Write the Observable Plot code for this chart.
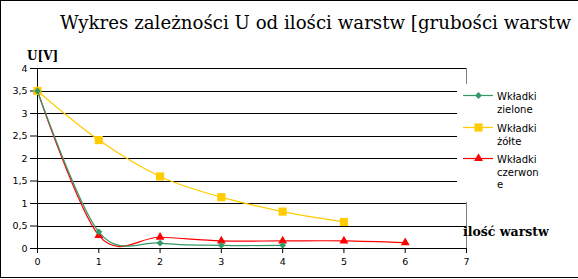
<!DOCTYPE html>
<html><head><meta charset="utf-8">
<script src="https://cdn.jsdelivr.net/npm/d3@7"></script>
<script src="https://cdn.jsdelivr.net/npm/@observablehq/plot@0.6"></script>
<style>html,body{margin:0;padding:0;background:#fff} svg{display:block}</style>
</head><body><div id="chart"></div>
<script>
// Data
const layers = [0, 1, 2, 3, 4, 5, 6];
const greenValues = [3.5, 0.37, 0.12, 0.07, 0.07];
const yellowValues = [3.5, 2.41, 1.6, 1.14, 0.82, 0.59];
const redValues = [3.5, 0.29, 0.25, 0.17, 0.17, 0.17, 0.13];
const seriesNames = ["Wkładki zielone", "Wkładki żółte", "Wkładki czerwone"];
const legendLines = [["Wkładki", "zielone"], ["Wkładki", "żółte"], ["Wkładki", "czerwon", "e"]];
const seriesColors = ["#339966", "#ffcc00", "#ff0000"];
const yTicks = [0, 0.5, 1, 1.5, 2, 2.5, 3, 3.5, 4];
const xTicks = [0, 1, 2, 3, 4, 5, 6, 7];
const titleText = "Wykres zależności U od ilości warstw [grubości warstw";
const yLabel = "U[V]";
const xLabel = "ilość warstw";

const toRows = (vals) => vals.map((v, i) => ({x: layers[i], y: v}));
const green = toRows(greenValues);
const yellow = toRows(yellowValues);
const red = toRows(redValues);

const chart = Plot.plot({
  width: 578, height: 279,
  marginLeft: 37, marginRight: 112, marginTop: 68, marginBottom: 31,
  x: {domain: [0, 7], ticks: xTicks, tickSize: 5, tickPadding: 5, label: null, tickFormat: d => String(d)},
  y: {domain: [0, 4], ticks: yTicks, tickSize: 7, tickPadding: 3, label: null,
      tickFormat: d => String(d).replace(".", ",")},
  style: {fontFamily: "DejaVu Sans", fontSize: "9.5px", color: "#000", background: "#fff", overflow: "hidden"},
  marks: [
    Plot.ruleY(yTicks, {stroke: "#000", strokeWidth: 1, shapeRendering: "crispEdges"}),
    Plot.ruleX([7], {stroke: "#808080", shapeRendering: "crispEdges"}),
    Plot.ruleX([0], {stroke: "#000", shapeRendering: "crispEdges"}),
    Plot.line(red, {x: "x", y: "y", curve: "cardinal", stroke: seriesColors[2], strokeWidth: 1.2}),
    Plot.dot(red, {x: "x", y: "y", symbol: "triangle", r: 3.3, fill: seriesColors[2], stroke: "none"}),
    Plot.line(yellow, {x: "x", y: "y", curve: "cardinal", stroke: seriesColors[1], strokeWidth: 1.2}),
    Plot.dot(yellow, {x: "x", y: "y", symbol: "square", r: 4.6, fill: seriesColors[1], stroke: "none"}),
    Plot.line(green, {x: "x", y: "y", curve: "cardinal", stroke: seriesColors[0], strokeWidth: 1.2}),
    Plot.dot(green, {x: "x", y: "y", symbol: "diamond2", r: 3.1, fill: seriesColors[0], stroke: "none"})
  ]
});
document.getElementById("chart").appendChild(chart);

const svg = d3.select(chart);
// legend box (covers grid)
svg.append("rect").attr("x", 457).attr("y", 84).attr("width", 110).attr("height", 118).attr("fill", "#fff");
const symTypes = [d3.symbolDiamond2, d3.symbolSquare, d3.symbolTriangle];
const symR = [3.1, 4.6, 3.3];
const legendY = [95, 127, 158];
legendLines.forEach((lines, i) => {
  const g = svg.append("g");
  g.append("line").attr("x1", 463).attr("x2", 493).attr("y1", legendY[i] + 0.5).attr("y2", legendY[i] + 0.5)
    .attr("stroke", seriesColors[i]).attr("stroke-width", 1.2);
  g.append("path").attr("d", d3.symbol().type(symTypes[i]).size(Math.PI * symR[i] * symR[i])())
    .attr("transform", `translate(478.5,${legendY[i] + 0.5})`).attr("fill", seriesColors[i]);
  lines.forEach((t, j) => {
    g.append("text").attr("x", 497).attr("y", legendY[i] + 5 + j * 12.7).attr("text-anchor", "start")
      .attr("font-family", "DejaVu Sans").attr("font-size", "10px").attr("fill", "#000").text(t);
  });
});
svg.append("text").attr("x", 60).attr("y", 29).attr("text-anchor", "start").attr("font-family", "DejaVu Serif")
  .attr("font-size", "18.2px").attr("fill", "#000").text(titleText);
svg.append("text").attr("x", 27).attr("y", 60).attr("text-anchor", "start").attr("font-family", "DejaVu Serif").attr("font-weight", "bold")
  .attr("font-size", "12px").attr("fill", "#000").text(yLabel);
svg.append("text").attr("x", 463).attr("y", 236).attr("text-anchor", "start").attr("font-family", "DejaVu Serif").attr("font-weight", "bold")
  .attr("font-size", "12.5px").attr("fill", "#000").text(xLabel);
svg.append("rect").attr("x", 0.5).attr("y", 0.5).attr("width", 640).attr("height", 276.5)
  .attr("fill", "none").attr("stroke", "#000").attr("shape-rendering", "crispEdges");
</script>
</body></html>
